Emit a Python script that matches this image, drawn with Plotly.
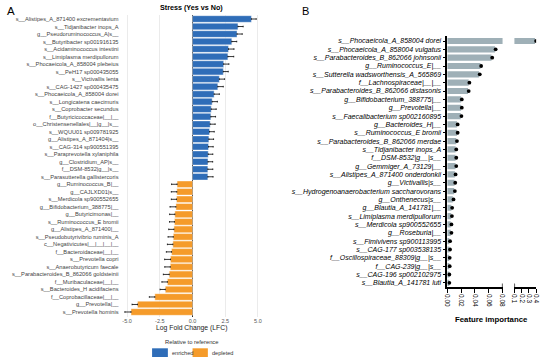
import plotly.graph_objects as go

# ---------------- data ----------------
lfc_taxa = [
    "s__Alistipes_A_871400 excrementavium",
    "s__Tidjanibacter inops_A",
    "g__Pseudoruminococcus_A|s__",
    "s__Butyribacter sp001916135",
    "s__Acidaminococcus intestini",
    "s__Limiplasma merdipullorum",
    "s__Phocaeicola_A_858004 plebeius",
    "s__PeH17 sp000435055",
    "s__Victivallis lenta",
    "s__CAG-1427 sp000435475",
    "s__Phocaeicola_A_858004 dorei",
    "s__Longicatena caecimuris",
    "s__Coprobacter secundus",
    "f__Butyricicoccaceae|__|__",
    "o__Christensenellales|__|g__|s__",
    "s__WQUU01 sp009781925",
    "g__Alistipes_A_871404|s__",
    "s__CAG-314 sp900551395",
    "s__Paraprevotella xylaniphila",
    "g__Clostridium_AP|s__",
    "f__DSM-8532|g__|s__",
    "s__Parasutterella gallistercoris",
    "g__Ruminococcus_B|__",
    "g__CAJLXD01|s__",
    "s__Merdicola sp900552655",
    "g__Bifidobacterium_388775|__",
    "g__Butyricimonas|__",
    "s__Ruminococcus_E bromii",
    "g__Alistipes_A_871400|__",
    "s__Pseudobutyrivibrio ruminis_A",
    "c__Negativicutes|__|__|__|__",
    "f__Bacteroidaceae|__|__",
    "s__Prevotella copri",
    "s__Anaerobutyricum faecale",
    "s__Parabacteroides_B_862066 goldsteinii",
    "f__Muribaculaceae|__|__",
    "s__Bacteroides_H acidifaciens",
    "f__Coprobacillaceae|__|__",
    "g__Prevotella|__",
    "s__Prevotella hominis",
]
lfc_values = [
    4.5, 3.47, 3.4, 3.0, 2.75, 2.7, 2.38, 2.35, 2.05, 1.93, 1.65, 1.5, 1.43,
    1.4, 1.35, 1.3, 1.25, 1.22, 1.2, 1.18, 1.17, 1.17,
    -1.18, -1.2, -1.22, -1.27, -1.35, -1.38, -1.42, -1.47, -1.5, -1.6, -1.68,
    -1.7, -1.78, -1.92, -2.08, -2.88, -4.2, -4.7,
]
lfc_se = [
    0.37, 0.4, 0.4, 0.38, 0.42, 0.45, 0.4, 0.38, 0.4, 0.42, 0.4, 0.4, 0.38,
    0.36, 0.38, 0.36, 0.36, 0.36, 0.35, 0.36, 0.38, 0.4,
    0.42, 0.42, 0.4, 0.45, 0.4, 0.38, 0.4, 0.4, 0.42, 0.4, 0.45,
    0.42, 0.45, 0.42, 0.4, 0.42, 0.42, 0.47,
]

fi_taxa = [
    "s__Phocaeicola_A_858004 dorei",
    "s__Phocaeicola_A_858004 vulgatus",
    "s__Parabacteroides_B_862066 johnsonii",
    "g__Ruminococcus_E|__",
    "s__Sutterella wadsworthensis_A_565869",
    "f__Lachnospiraceae|__|__",
    "s__Parabacteroides_B_862066 distasonis",
    "g__Bifidobacterium_388775|__",
    "g__Prevotella|__",
    "s__Faecalibacterium sp002160895",
    "g__Bacteroides_H|__",
    "s__Ruminococcus_E bromii",
    "s__Parabacteroides_B_862066 merdae",
    "s__Tidjanibacter inops_A",
    "f__DSM-8532|g__|s__",
    "g__Gemmiger_A_73129|__",
    "s__Alistipes_A_871400 onderdonkii",
    "g__Victivallis|s__",
    "s__Hydrogenoanaerobacterium saccharovorans",
    "g__Onthenecus|s__",
    "g__Blautia_A_141781|__",
    "s__Limiplasma merdipullorum",
    "s__Merdicola sp900552655",
    "g__Roseburia|__",
    "s__Fimivivens sp900113995",
    "s__CAG-177 sp003538135",
    "f__Oscillospiraceae_88309|g__|s__",
    "f__CAG-239|g__|s__",
    "s__CAG-196 sp002102975",
    "s__Blautia_A_141781 luti",
]
fi_values = [
    0.385, 0.069, 0.064, 0.048, 0.046, 0.031, 0.030, 0.020, 0.020, 0.0195,
    0.014, 0.014, 0.013, 0.012, 0.012, 0.012, 0.011, 0.0105, 0.010, 0.008,
    0.006, 0.0057, 0.005, 0.005, 0.003, 0.003, 0.0025, 0.0025, 0.002, 0.002,
]
fi_points = [
    0.40, 0.070, 0.065, 0.049, 0.047, 0.032, 0.031, 0.021, 0.021, 0.0205,
    0.015, 0.015, 0.014, 0.013, 0.013, 0.013, 0.012, 0.0115, 0.011, 0.009,
    0.007, 0.0067, 0.006, 0.006, 0.004, 0.004, 0.0035, 0.0035, 0.003, 0.003,
]

lfc_ticks = [-5.0, -2.5, 0.0, 2.5, 5.0]
fi_ticks_low = [0.0, 0.02, 0.04, 0.06, 0.08]
fi_ticks_high = [0.1, 0.2, 0.3, 0.4]

# ---------------- helpers ----------------
W, H = 550, 360
def fx(p):
    return p / W
def fy(p):
    return 1 - p / H

FONT = "Liberation Sans, Arial, sans-serif"
BLUE = "#2F6DB8"
ORANGE = "#F59B2A"
GREYBAR = "#9FB0B7"

enr = [i for i, v in enumerate(lfc_values) if v > 0]
dep = [i for i, v in enumerate(lfc_values) if v <= 0]

fig = go.Figure()

fig.add_trace(go.Bar(
    y=[lfc_taxa[i] for i in enr], x=[lfc_values[i] for i in enr],
    orientation="h", marker=dict(color=BLUE, line=dict(color="rgba(255,255,255,0.7)", width=0.6)),
    error_x=dict(type="data", symmetric=False, array=[lfc_se[i] for i in enr],
                 arrayminus=[0] * len(enr), color="black", thickness=0.8, width=0.8),
    name="enriched", xaxis="x", yaxis="y", showlegend=False,
))
fig.add_trace(go.Bar(
    y=[lfc_taxa[i] for i in dep], x=[lfc_values[i] for i in dep],
    orientation="h", marker=dict(color=ORANGE, line=dict(color="rgba(255,255,255,0.7)", width=0.6)),
    error_x=dict(type="data", symmetric=False, array=[0] * len(dep),
                 arrayminus=[lfc_se[i] for i in dep], color="black", thickness=0.8, width=0.8),
    name="depleted", xaxis="x", yaxis="y", showlegend=False,
))

for xa in ("x2", "x3"):
    fig.add_trace(go.Bar(
        y=fi_taxa, x=fi_values, orientation="h", width=0.74,
        marker=dict(color=GREYBAR, line=dict(width=0)),
        xaxis=xa, yaxis="y2", showlegend=False,
    ))
    fig.add_trace(go.Scatter(
        y=fi_taxa, x=fi_points, mode="markers",
        marker=dict(color="black", size=3.8),
        xaxis=xa, yaxis="y2", showlegend=False, cliponaxis=True,
    ))

axis_b = dict(showline=True, linecolor="black", linewidth=1.5, ticks="outside",
              ticklen=4, tickwidth=1.2, tickcolor="black", showgrid=False,
              zeroline=False, tickangle=90,
              tickfont=dict(family=FONT, size=6.5, color="black"))

fig.update_layout(
    width=W, height=H, margin=dict(l=0, r=0, t=0, b=0),
    paper_bgcolor="white", plot_bgcolor="white",
    barmode="overlay", bargap=0.12,
    xaxis=dict(domain=[fx(118), fx(265)], range=[-5.58, 5.51], anchor="y",
               tickvals=lfc_ticks, ticktext=[f"{t:.1f}" for t in lfc_ticks],
               showgrid=True, gridcolor="#EBEBEB", gridwidth=0.6,
               zeroline=True, zerolinecolor="#222222", zerolinewidth=0.8,
               ticks="", showline=False,
               tickfont=dict(family=FONT, size=5.5, color="#555555")),
    yaxis=dict(domain=[fy(316.5), fy(14.5)], anchor="x", type="category",
               categoryorder="array", categoryarray=lfc_taxa,
               range=[39.6, -0.6], showgrid=False, zeroline=False, ticks="",
               tickfont=dict(family=FONT, size=5.7, color="#444444")),
    xaxis2=dict(domain=[fx(450), fx(506)], range=[0, 0.08], anchor="y2",
                tickvals=fi_ticks_low, ticktext=[f"{t:.2f}" for t in fi_ticks_low],
                **axis_b),
    xaxis3=dict(domain=[fx(518), fx(540)], range=[0.1, 0.4], anchor="y2",
                tickvals=fi_ticks_high, ticktext=[f"{t:.1f}" for t in fi_ticks_high],
                **axis_b),
    yaxis2=dict(domain=[fy(287), fy(36)], anchor="x2", type="category",
                categoryorder="array", categoryarray=fi_taxa,
                range=[29.5, -0.6], showline=True, linecolor="black", linewidth=1.5,
                ticks="outside", ticklen=3, tickwidth=1.2, tickcolor="black",
                showgrid=False, zeroline=False,
                tickfont=dict(family=FONT, size=7.0, color="black", style="italic")),
)

# axis break caps
for xr, xv in (("x2", 0.08), ("x3", 0.1)):
    fig.add_shape(type="line", xref=xr, yref="paper", x0=xv, x1=xv,
                  y0=fy(290.5), y1=fy(283.5), line=dict(color="black", width=1.3))

# legend swatches (panel A)
fig.add_shape(type="rect", xref="paper", yref="paper", x0=fx(151), x1=fx(167),
              y0=fy(357), y1=fy(348.3), fillcolor=BLUE, line=dict(width=0))
fig.add_shape(type="rect", xref="paper", yref="paper", x0=fx(192), x1=fx(207.5),
              y0=fy(357), y1=fy(348.3), fillcolor=ORANGE, line=dict(width=0))

def ann(text, x, y, size, color="black", bold=False, xanchor="center", yanchor="middle"):
    fig.add_annotation(text=f"<b>{text}</b>" if bold else text, x=fx(x), y=fy(y),
                       xref="paper", yref="paper", showarrow=False,
                       xanchor=xanchor, yanchor=yanchor,
                       font=dict(family=FONT, size=size, color=color))

ann("A", 2, 11, 11.5, xanchor="left")
ann("B", 301, 11, 11, xanchor="left")
ann("Stress (Yes vs No)", 191, 7.5, 7.2, bold=True)
ann("Log Fold Change (LFC)", 191, 327.5, 6.8, color="#222222")
ann("Relative to reference", 191, 342, 5.8, color="#333333")
ann("enriched", 169, 352.7, 5.6, color="#333333", xanchor="left")
ann("depleted", 209.5, 352.7, 5.6, color="#333333", xanchor="left")
ann("Feature importance", 495, 319, 7.8, bold=True)

fig.write_html("out.html", config={"displayModeBar": False},
               post_script="document.body.style.margin='0';document.body.style.overflow='hidden';")
